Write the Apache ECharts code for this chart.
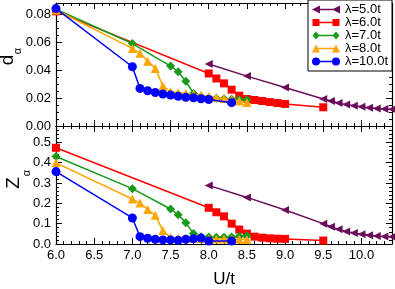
<!DOCTYPE html>
<html><head><meta charset="utf-8">
<script src="https://cdn.jsdelivr.net/npm/echarts@6/dist/echarts.min.js"></script>
<style>html,body{margin:0;padding:0;background:#fff}#c{width:395px;height:289px}</style>
</head><body><div id="c"></div>
<script>
// ---- data ----
const names = ['λ=5.0t','λ=6.0t','λ=7.0t','λ=8.0t','λ=10.0t'];
const x5  = [8.0, 8.5, 9.0, 9.5, 9.6, 9.7, 9.8, 9.9, 10.0, 10.1, 10.2, 10.3, 10.4];
const d5  = [0.0443, 0.0357, 0.0276, 0.0193, 0.0179, 0.0165, 0.0153, 0.0145, 0.0137, 0.0130, 0.0125, 0.0122, 0.0120];
const z5  = [0.288, 0.229, 0.167, 0.100, 0.085, 0.072, 0.062, 0.054, 0.048, 0.043, 0.039, 0.037, 0.036];
const x6  = [6.0, 8.0, 8.1, 8.2, 8.3, 8.4, 8.5, 8.6, 8.7, 8.8, 8.9, 9.0, 9.5];
const d6  = [0.082, 0.0376, 0.034, 0.0305, 0.026, 0.0217, 0.0193, 0.0186, 0.0179, 0.0171, 0.0164, 0.0158, 0.0134];
const z6  = [0.473, 0.178, 0.156, 0.136, 0.100, 0.071, 0.051, 0.036, 0.031, 0.028, 0.026, 0.025, 0.017];
const x7  = [6.0, 7.0, 7.5, 7.6, 7.7, 7.8, 7.9, 8.0, 8.1, 8.2, 8.3, 8.4, 8.5];
const d7  = [0.0835, 0.059, 0.0429, 0.0388, 0.032, 0.0233, 0.021, 0.0202, 0.0198, 0.0195, 0.0192, 0.019, 0.0188];
const z7  = [0.430, 0.272, 0.172, 0.144, 0.105, 0.051, 0.036, 0.034, 0.033, 0.033, 0.035, 0.038, 0.040];
const x8  = [6.0, 7.0, 7.1, 7.2, 7.3, 7.4, 7.5, 7.6, 7.7, 7.8, 7.9, 8.0, 8.1, 8.2, 8.3, 8.4, 8.5];
const d8  = [0.083, 0.0555, 0.052, 0.0464, 0.0412, 0.0286, 0.0245, 0.0238, 0.0232, 0.0226, 0.022, 0.0212, 0.0204, 0.0196, 0.0188, 0.0178, 0.0168];
const z8  = [0.399, 0.221, 0.201, 0.170, 0.141, 0.066, 0.032, 0.030, 0.029, 0.028, 0.027, 0.026, 0.025, 0.025, 0.024, 0.023, 0.022];
const x10 = [6.0, 7.0, 7.1, 7.2, 7.3, 7.4, 7.5, 7.6, 7.7, 7.8, 7.9, 8.0, 8.3];
const d10 = [0.084, 0.0424, 0.0269, 0.0252, 0.024, 0.0229, 0.0221, 0.0212, 0.0205, 0.0202, 0.0195, 0.019, 0.0167];
const z10 = [0.356, 0.128, 0.036, 0.028, 0.023, 0.020, 0.020, 0.018, 0.023, 0.026, 0.029, 0.015, 0.015];
const xTicks = {min: 6, max: 10.4, interval: 0.5};
const dTicks = {min: 0, max: 0.088, interval: 0.02};
const zTicks = {min: 0, max: 0.58, interval: 0.1};

const FONT = 'Liberation Sans';
const xs = [x5, x6, x7, x8, x10];
const ds = [d5, d6, d7, d8, d10];
const zs = [z5, z6, z7, z8, z10];
const colors = ['#6a0d5a', '#ff0000', '#1a9a1a', '#ffa500', '#0000ff'];
const symbols = ['triangle', 'rect', 'diamond', 'triangle', 'circle'];
const symRot = [90, 0, 0, 0, 0];
const symSize = [8, 8, 9, 9, 9];

// legend icons: line with a marker at each end (28 x 8 box)
const bar = 'M4 3.2L24 3.2L24 4.8L4 4.8Z';
const legendIcons = [
  'path://' + bar + 'M0 4L8 0L8 8ZM20 4L28 0L28 8Z',
  'path://' + bar + 'M0.5 0.5L7.5 0.5L7.5 7.5L0.5 7.5ZM20.5 0.5L27.5 0.5L27.5 7.5L20.5 7.5ZM0 0L0 0M28 8L28 8',
  'path://' + bar + 'M4 0L7.5 4L4 8L0.5 4ZM24 0L27.5 4L24 8L20.5 4ZM0 0L0 0M28 8L28 8',
  'path://' + bar + 'M4 0L8 8L0 8ZM24 0L28 8L20 8Z',
  'path://' + bar + 'M0 4A4 4 0 1 1 8 4A4 4 0 1 1 0 4ZM20 4A4 4 0 1 1 28 4A4 4 0 1 1 20 4Z'
];

const pair = (x, y) => x.map((v, i) => [v, y[i]]);
const series = [];
for (let i = 0; i < 5; i++) {
  [[ds[i], 0], [zs[i], 1]].forEach(([y, g]) => {
    series.push({
      name: names[i], type: 'line', xAxisIndex: g * 2, yAxisIndex: g * 2,
      data: pair(xs[i], y), symbol: symbols[i], symbolRotate: symRot[i], symbolSize: symSize[i],
      showAllSymbol: true,
      lineStyle: {color: colors[i], width: 1.5}, itemStyle: {color: colors[i]},
      z: 2 + i, animation: false
    });
  });
}

const tick = {show: true, inside: true, length: 6, lineStyle: {color: '#000', width: 1}};
const minor = n => ({show: true, splitNumber: n, length: 3, lineStyle: {color: '#000', width: 1}});
const line = {show: true, onZero: false, lineStyle: {color: '#000', width: 1.2}};
const lab = {color: '#000', fontSize: 13, fontFamily: FONT};

function xAx(grid, pos, labels) {
  return Object.assign({
    type: 'value', gridIndex: grid, position: pos,
    axisLine: line, axisTick: tick, minorTick: minor(5), splitLine: {show: false},
    axisLabel: labels ? Object.assign({show: true, margin: 5, showMaxLabel: false, formatter: v => v.toFixed(1)}, lab) : {show: false},
    name: labels ? 'U/t' : '', nameLocation: 'middle', nameGap: 27,
    nameTextStyle: {color: '#000', fontSize: 17, fontFamily: FONT}
  }, xTicks);
}
function yAx(grid, pos, labels, t, dec, mn) {
  return Object.assign({
    type: 'value', gridIndex: grid, position: pos,
    axisLine: line, axisTick: tick, minorTick: minor(mn), splitLine: {show: false},
    axisLabel: labels ? Object.assign({show: true, margin: 5, showMaxLabel: false, formatter: v => v.toFixed(dec)}, lab) : {show: false}
  }, t);
}

const option = {
  animation: false,
  backgroundColor: '#fff',
  grid: [
    {left: 56, top: 3, width: 336, height: 123},
    {left: 56, top: 126, width: 336, height: 125}
  ],
  xAxis: [xAx(0, 'bottom', false), xAx(0, 'top', false), xAx(1, 'bottom', true), xAx(1, 'top', false)],
  yAxis: [yAx(0, 'left', true, dTicks, 2, 4), yAx(0, 'right', false, dTicks, 2, 4),
          yAx(1, 'left', true, zTicks, 1, 5), yAx(1, 'right', false, zTicks, 1, 5)],
  legend: {
    data: names.map((n, i) => ({name: n, icon: legendIcons[i]})),
    orient: 'vertical', right: 3, top: 0,
    backgroundColor: '#fff', borderColor: '#000', borderWidth: 1, borderRadius: 0,
    padding: [3, 4, 3, 4], itemGap: 0, itemWidth: 28, itemHeight: 8,
    itemStyle: {borderWidth: 0},
    textStyle: {color: '#000', fontSize: 13, fontFamily: FONT}
  },
  graphic: [
    {type: 'text', x: 8, y: 60, rotation: Math.PI / 2, style: {text: 'd', fontSize: 19, fontFamily: FONT, fill: '#000', align: 'center', verticalAlign: 'middle'}},
    {type: 'text', x: 18, y: 51, rotation: Math.PI / 2, style: {text: 'α', fontSize: 11, fontFamily: FONT, fill: '#000', align: 'center', verticalAlign: 'middle'}},
    {type: 'text', x: 14, y: 183, rotation: Math.PI / 2, style: {text: 'Z', fontSize: 19, fontFamily: FONT, fill: '#000', align: 'center', verticalAlign: 'middle'}},
    {type: 'text', x: 27, y: 173, rotation: Math.PI / 2, style: {text: 'α', fontSize: 11, fontFamily: FONT, fill: '#000', align: 'center', verticalAlign: 'middle'}}
  ],
  series: series
};
const chart = echarts.init(document.getElementById('c'), null, {renderer: 'canvas'});
chart.setOption(option);
</script></body></html>
